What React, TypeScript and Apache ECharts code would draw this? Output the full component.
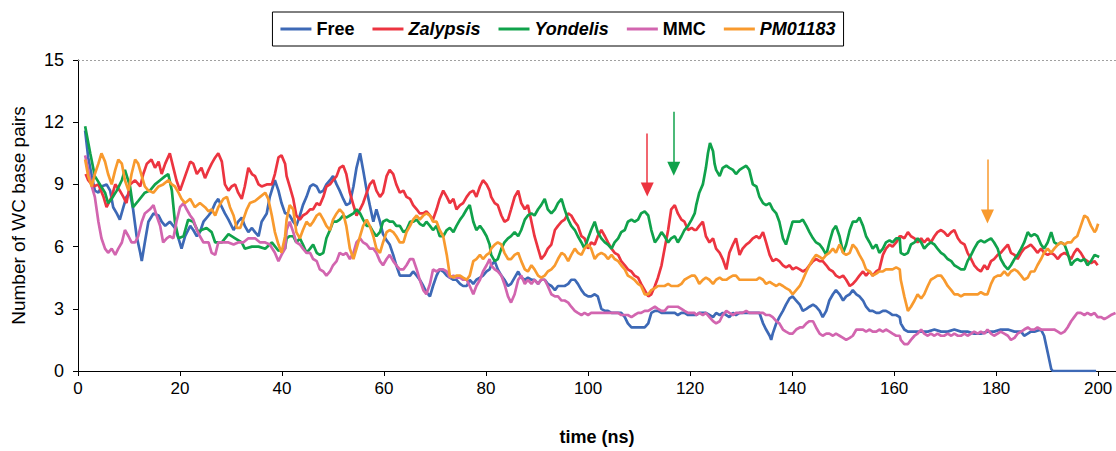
import React, { useEffect, useRef } from "react";
import * as echarts from "echarts";

const seriesNames = ["Free", "Zalypsis", "Yondelis", "MMC", "PM01183"];
const xTicks = [0, 20, 40, 60, 80, 100, 120, 140, 160, 180, 200];
const yTicks = [0, 3, 6, 9, 12, 15];

const free: number[][] = [
  [1.4,11.6],[2.0,10.3],[2.7,9.4],[3.3,8.7],[4.0,8.6],[4.6,8.9],[5.6,9.0],[6.3,8.7],[6.9,7.9],[7.6,7.6],[8.2,7.3],[8.9,7.9],[9.5,8.4],[10.2,8.6],[10.8,7.8],[11.5,6.5],[12.2,5.7],[12.5,5.3],[13.1,6.2],[13.8,7.2],[14.8,7.6],[15.8,7.5],[16.4,7.2],[17.1,7.0],[18.0,7.2],[19.0,6.9],[19.7,6.4],[20.3,5.9],[21.0,6.5],[22.0,7.0],[22.6,6.8],[23.3,6.5],[23.9,6.7],[24.6,7.2],[25.6,7.5],[26.2,7.7],[26.9,8.1],[27.5,8.3],[28.2,7.9],[28.8,7.6],[29.5,7.3],[30.5,6.8],[31.4,7.2],[32.1,7.4],[32.7,7.0],[33.4,6.7],[34.1,6.9],[34.7,6.7],[35.4,6.5],[36.0,7.2],[37.0,7.6],[37.6,8.4],[38.6,9.2],[39.3,8.7],[39.9,8.1],[40.6,7.6],
  [40.9,7.6],[41.5,7.5],[42.2,7.2],[42.8,7.0],[43.5,7.5],[44.1,8.0],[44.8,8.4],[45.5,8.9],[46.1,9.0],[46.8,8.9],[47.4,8.6],[48.1,8.7],[48.7,9.0],[49.4,9.2],[50.0,9.4],[50.7,9.0],[51.3,8.7],[52.0,8.3],[52.6,8.0],[53.3,8.1],[54.0,8.9],[54.6,9.8],[55.3,10.5],[55.9,9.7],[56.6,8.7],[57.2,8.0],[57.9,7.2],[58.5,7.8],[59.2,7.2],[59.8,6.6],[60.5,6.3],[61.1,6.1],[61.8,5.6],[62.4,5.1],[63.1,4.6],[63.8,4.6],[64.4,4.6],[65.1,4.6],[65.7,4.8],[66.4,4.6],[67.0,4.4],[67.7,4.1],[68.3,3.8],[69.0,3.6],[69.6,4.1],[70.3,4.6],[70.9,4.9],[71.6,4.8],[72.3,4.6],[72.9,4.5],[73.6,4.4],[74.2,4.4],[74.9,4.2],[75.5,4.1],[76.2,4.1],[76.8,4.4],[77.5,4.2],[78.1,4.4],[78.8,4.5],[79.4,4.6],[80.1,4.8],[80.7,4.9],
  [81.0,5.1],[81.7,5.3],[82.3,4.9],[83.0,4.6],[83.6,4.4],[84.3,4.1],[84.9,4.2],[85.6,4.5],[86.3,4.8],[86.9,4.5],[87.6,4.4],[88.2,4.5],[88.9,4.4],[89.5,4.4],[90.2,4.2],[90.8,4.4],[91.5,4.4],[92.1,4.2],[92.8,4.1],[93.5,3.9],[94.1,4.1],[94.8,4.1],[95.4,4.1],[96.1,4.2],[96.7,4.4],[97.4,4.4],[98.0,4.2],[98.7,3.9],[99.3,3.7],[100.0,3.6],[100.6,3.6],[101.3,3.7],[101.9,3.6],[102.6,3.0],[103.3,2.9],[103.9,2.9],[104.6,2.8],[105.2,2.8],[105.9,2.8],[106.5,2.8],[107.2,2.6],[107.8,2.3],[108.5,2.1],[109.1,2.1],[109.8,2.1],[110.4,2.1],[111.1,2.1],[111.8,2.3],[112.4,2.8],[113.1,2.9],[113.7,2.9],[114.4,2.8],[115.0,2.8],[115.7,2.8],[116.3,2.8],[117.0,2.8],[117.6,2.7],[118.3,2.8],[118.9,2.8],[119.6,2.7],[120.3,2.7],[120.9,2.7],
  [121.2,2.7],[121.8,2.8],[122.5,2.8],[123.1,2.8],[123.8,2.7],[124.5,2.6],[125.1,2.8],[125.8,2.7],[126.4,2.8],[127.1,2.7],[127.7,2.6],[128.4,2.8],[129.0,2.7],[129.7,2.8],[130.3,2.8],[131.0,2.8],[131.6,2.8],[132.3,2.8],[133.0,2.8],[133.6,2.8],[134.3,2.3],[134.9,2.0],[135.6,1.7],[135.9,1.5],[136.2,1.8],[136.9,2.3],[137.5,2.6],[138.2,2.9],[138.8,3.2],[139.5,3.5],[140.1,3.6],[140.8,3.4],[141.5,3.2],[142.1,2.9],[142.8,3.0],[143.4,3.1],[144.1,3.2],[144.7,3.1],[145.4,2.9],[146.0,2.6],[146.7,2.9],[147.3,3.4],[148.0,3.7],[148.6,3.9],[149.3,3.7],[150.0,3.4],[150.6,3.6],[151.3,3.7],[151.9,3.9],[152.6,3.7],[153.2,3.6],[153.9,3.4],[154.5,3.1],[155.2,2.9],[155.8,2.9],[156.5,2.8],[157.1,2.8],[157.8,2.9],[158.4,2.9],[159.1,2.8],[159.7,2.7],[160.4,2.7],[161.1,2.6],
  [161.3,2.3],[162.0,2.0],[162.7,1.9],[164.0,1.9],[165.3,1.9],[166.6,1.9],[167.9,2.0],[169.2,1.9],[170.5,1.9],[171.8,2.0],[173.1,1.9],[174.4,1.9],[175.7,1.8],[177.0,1.8],[178.3,1.9],[179.6,1.9],[180.9,2.0],[182.3,2.0],[183.6,1.9],[184.9,1.9],[185.5,1.7],[186.2,1.8],[186.8,1.9],[187.5,1.9],[188.8,2.0],[189.4,1.7],[190.1,0.9],[190.8,0.1],[191.1,0],[199.6,0]
];

const zalypsis: number[][] = [
  [1.5,9.5],[2.0,9.2],[3.0,8.9],[4.0,9.0],[5.0,8.4],[5.6,7.9],[6.6,8.4],[7.3,9.0],[8.2,8.7],[8.9,8.4],[9.5,8.1],[10.2,9.0],[11.2,9.2],[12.2,8.9],[12.8,9.5],[13.5,10.0],[14.4,10.2],[15.1,9.8],[15.8,10.1],[16.4,9.5],[17.1,10.0],[18.0,10.5],[18.7,9.8],[19.3,9.2],[20.0,8.7],[21.0,9.4],[22.0,10.1],[22.6,10.0],[23.3,9.5],[24.2,9.8],[24.9,9.3],[25.6,9.7],[26.2,10.0],[26.9,10.3],[27.5,10.5],[28.2,10.1],[28.8,9.0],[29.5,8.7],[30.1,8.9],[30.8,9.0],[31.4,8.6],[32.1,8.3],[32.7,8.9],[33.4,9.8],[34.1,9.5],[34.7,9.4],[35.4,9.0],[36.0,8.9],[37.0,9.0],[38.0,9.0],[38.6,9.5],[39.3,10.3],[39.9,10.4],[40.6,10.0],
  [40.9,9.4],[41.5,8.9],[42.2,8.3],[42.8,7.5],[43.5,7.3],[44.1,7.5],[44.8,7.6],[45.5,7.8],[46.1,7.8],[46.8,8.1],[47.4,8.0],[48.1,8.4],[48.7,8.9],[49.4,9.0],[50.0,9.2],[50.7,9.4],[51.3,9.8],[52.0,9.9],[52.6,9.5],[53.3,8.6],[54.0,8.0],[54.6,7.5],[55.3,7.8],[55.9,8.1],[56.6,8.6],[57.2,9.0],[57.9,9.2],[58.5,8.7],[59.2,8.4],[59.8,8.6],[60.5,9.4],[61.1,9.7],[61.8,9.5],[62.4,9.0],[63.1,8.6],[63.8,8.7],[64.4,8.4],[65.1,8.3],[65.7,8.0],[66.4,7.8],[67.0,7.6],[67.7,7.6],[68.3,7.7],[69.0,7.5],[69.6,7.3],[70.3,7.8],[70.9,8.3],[71.6,8.7],[72.3,8.4],[72.9,8.1],[73.6,8.3],[74.2,7.8],[74.9,8.0],[75.5,8.1],[76.2,8.4],[76.8,8.6],[77.5,8.7],[78.1,8.4],[78.8,8.9],[79.4,9.2],[80.1,9.0],[80.7,8.7],
  [81.0,8.4],[81.7,8.1],[82.3,8.0],[83.0,7.5],[83.6,7.2],[84.3,7.3],[84.9,7.8],[85.6,8.4],[86.3,8.7],[86.9,8.1],[87.6,7.8],[88.2,8.0],[88.9,7.2],[89.5,6.5],[90.2,5.9],[90.8,5.4],[91.5,5.6],[92.1,5.9],[92.8,6.1],[93.5,6.8],[94.1,7.0],[94.8,7.2],[95.4,7.3],[96.1,7.6],[96.7,7.5],[97.4,7.2],[98.0,7.0],[98.7,6.5],[99.3,6.4],[100.0,5.9],[100.6,6.2],[101.3,6.1],[101.9,6.5],[102.6,6.8],[103.3,6.5],[103.9,6.2],[104.6,5.9],[105.2,5.7],[105.9,5.6],[106.5,5.3],[107.2,5.1],[107.8,4.9],[108.5,4.8],[109.1,4.6],[109.8,4.5],[110.4,4.2],[111.1,3.9],[111.8,3.6],[112.4,3.7],[113.1,4.1],[113.7,4.5],[114.4,5.1],[115.0,5.9],[115.7,6.8],[116.3,7.8],[117.0,8.0],[117.6,7.6],[118.3,7.3],[118.9,7.2],[119.6,6.8],[120.3,6.9],[120.9,6.8],
  [121.2,6.8],[121.8,7.0],[122.5,7.2],[123.1,6.5],[123.8,6.2],[124.5,6.4],[125.1,5.9],[125.8,5.7],[126.4,5.4],[127.1,4.9],[127.7,5.7],[128.4,6.1],[129.0,6.4],[129.7,5.6],[130.3,5.9],[131.0,6.1],[131.6,6.2],[132.3,6.4],[133.0,6.5],[133.6,6.4],[134.3,6.7],[134.9,6.2],[135.6,5.6],[136.2,5.3],[136.9,5.4],[137.5,5.3],[138.2,5.1],[138.8,5.0],[139.5,5.1],[140.1,4.9],[140.8,5.0],[141.5,4.9],[142.1,4.8],[142.8,4.9],[143.4,5.1],[144.1,5.3],[144.7,5.4],[145.4,5.3],[146.0,5.3],[146.7,5.1],[147.3,4.9],[148.0,4.8],[148.6,4.6],[149.3,4.5],[150.0,4.6],[150.6,4.4],[151.3,4.1],[151.9,4.2],[152.6,4.4],[153.2,4.6],[153.9,4.8],[154.5,4.6],[155.2,4.8],[155.8,4.6],[156.5,4.8],[157.1,4.9],[157.8,5.6],[158.4,5.9],[159.1,6.1],[159.7,6.0],[160.4,6.2],[161.1,6.5],
  [161.3,6.5],[162.0,6.4],[162.7,6.7],[163.3,6.5],[164.0,6.4],[164.6,6.2],[165.3,6.4],[165.9,6.2],[166.6,6.4],[167.2,6.2],[167.9,6.5],[168.5,6.7],[169.2,6.8],[169.8,6.7],[170.5,6.5],[171.2,6.7],[171.8,6.8],[172.5,6.4],[173.1,6.2],[173.8,6.1],[174.4,5.7],[175.1,5.4],[175.7,5.1],[176.4,4.9],[177.0,4.8],[177.7,5.1],[178.3,4.9],[179.0,5.3],[179.6,5.4],[180.3,5.6],[180.9,5.7],[181.6,5.9],[182.3,6.1],[182.9,5.7],[183.6,5.6],[184.2,5.4],[184.9,5.7],[185.5,5.9],[186.2,6.0],[186.8,6.1],[187.5,5.9],[188.1,5.7],[188.8,5.9],[189.4,5.7],[190.1,5.6],[190.8,5.7],[191.4,5.6],[192.1,5.4],[192.7,5.6],[193.4,5.7],[194.0,5.6],[194.7,5.4],[195.3,5.7],[195.9,5.9],[196.6,5.7],[197.3,5.4],[197.9,5.3],[198.6,5.2],[199.3,5.3],[199.9,5.1]
];

const yondelis: number[][] = [
  [1.4,11.8],[2.4,10.5],[3.3,9.4],[4.3,9.0],[5.3,8.6],[5.9,8.1],[6.6,8.3],[7.6,8.7],[8.6,9.2],[9.2,9.7],[10.2,8.9],[10.8,7.9],[11.8,8.2],[13.1,8.6],[14.1,8.7],[15.1,9.0],[16.1,9.2],[17.1,9.4],[17.7,9.5],[18.4,8.7],[19.0,7.2],[19.7,6.4],[20.7,6.5],[21.6,7.3],[22.6,7.2],[23.6,6.7],[24.2,6.8],[25.2,6.9],[26.2,6.7],[26.9,6.2],[28.2,6.2],[29.5,6.6],[30.8,6.4],[32.1,6.2],[32.7,5.9],[34.1,6.0],[35.4,6.0],[36.7,5.9],[38.0,6.2],[39.3,5.8],[40.6,5.9],
  [40.9,6.4],[41.5,6.5],[42.2,6.5],[42.8,6.2],[43.5,6.4],[44.1,6.1],[44.8,5.7],[45.5,5.9],[46.1,6.1],[46.8,5.7],[47.4,5.6],[48.1,5.7],[48.7,6.4],[49.4,6.8],[50.0,7.2],[50.7,7.2],[51.3,7.3],[52.0,7.5],[52.6,7.4],[53.3,7.5],[54.0,7.6],[54.6,7.8],[55.3,7.6],[55.9,7.3],[56.6,7.0],[57.2,7.0],[57.9,6.7],[58.5,6.5],[59.2,6.7],[59.8,7.2],[60.5,7.3],[61.1,7.2],[61.8,7.2],[62.4,7.0],[63.1,7.0],[63.8,6.7],[64.4,6.8],[65.1,7.2],[65.7,7.2],[66.4,7.3],[67.0,7.1],[67.7,7.0],[68.3,7.2],[69.0,7.0],[69.6,6.8],[70.3,7.0],[70.9,6.5],[71.6,6.5],[72.3,6.8],[72.9,6.9],[73.6,6.7],[74.2,7.0],[74.9,7.3],[75.5,7.5],[76.2,7.8],[76.8,8.0],[77.5,7.2],[78.1,6.8],[78.8,7.0],[79.4,6.8],[80.1,6.5],[80.7,6.1],
  [81.0,5.6],[81.7,5.3],[82.3,5.4],[83.0,5.9],[83.6,6.2],[84.3,6.4],[84.9,6.5],[85.6,6.7],[86.3,6.5],[86.9,6.8],[87.6,7.3],[88.2,7.5],[88.9,7.6],[89.5,7.5],[90.2,7.8],[90.8,8.0],[91.5,8.3],[92.1,7.8],[92.8,7.6],[93.5,7.8],[94.1,8.1],[94.8,8.3],[95.4,7.8],[96.1,7.3],[96.7,7.0],[97.4,6.8],[98.0,6.5],[98.7,6.2],[99.3,5.9],[100.0,6.4],[100.6,6.8],[101.3,7.2],[101.9,6.7],[102.6,6.4],[103.3,6.2],[103.9,6.1],[104.6,5.9],[105.2,6.2],[105.9,6.4],[106.5,6.7],[107.2,6.8],[107.8,7.2],[108.5,7.3],[109.1,7.2],[109.8,7.3],[110.4,7.6],[111.1,7.7],[111.8,7.5],[112.4,6.8],[113.1,6.2],[113.7,6.4],[114.4,6.7],[115.0,6.5],[115.7,6.2],[116.3,6.4],[117.0,6.5],[117.6,6.2],[118.3,6.5],[118.9,6.8],[119.6,7.0],[120.3,7.3],[120.9,7.6],
  [121.2,8.0],[121.8,8.6],[122.5,9.0],[123.1,9.8],[123.5,10.5],[123.9,11.0],[124.5,10.6],[124.8,10.0],[125.1,9.7],[125.8,9.4],[126.4,9.8],[127.1,9.9],[127.7,9.8],[128.4,9.7],[129.0,9.5],[129.7,9.7],[130.3,9.8],[131.0,9.9],[131.6,9.7],[132.3,9.0],[133.0,8.9],[133.6,8.4],[134.3,8.1],[134.9,8.0],[135.6,8.1],[136.2,7.8],[136.9,7.6],[137.5,7.2],[138.2,6.4],[138.8,6.1],[139.5,6.7],[140.1,7.2],[140.8,7.2],[141.5,7.2],[142.1,7.3],[142.8,7.0],[143.4,6.7],[144.1,6.4],[144.7,6.2],[145.4,6.1],[146.0,5.9],[146.7,5.6],[147.3,6.2],[148.0,6.8],[148.6,7.0],[149.3,6.5],[150.0,5.7],[150.6,6.1],[151.3,6.8],[151.9,7.2],[152.6,7.2],[153.2,7.4],[153.9,7.0],[154.5,6.5],[155.2,6.2],[155.8,5.9],[156.5,6.1],[157.1,5.7],[157.8,5.9],[158.4,6.2],[159.1,6.3],[159.7,6.2],[160.4,6.4],[161.1,6.4],
  [161.3,5.7],[162.0,5.6],[162.7,5.7],[163.3,6.1],[164.0,6.2],[164.6,6.4],[165.3,6.2],[165.9,5.9],[166.6,6.1],[167.2,6.2],[167.9,6.1],[168.5,5.9],[169.2,5.7],[169.8,5.6],[170.5,5.4],[171.2,5.3],[171.8,5.1],[172.5,5.0],[173.1,4.9],[173.8,4.9],[174.4,5.3],[175.1,5.6],[175.7,5.9],[176.4,6.2],[177.0,6.3],[177.7,6.2],[178.3,6.3],[179.0,6.4],[179.6,6.2],[180.3,5.9],[180.9,5.4],[181.6,5.1],[182.3,4.9],[182.9,5.1],[183.6,5.4],[184.2,5.6],[184.9,5.9],[185.5,6.2],[186.2,6.7],[186.8,6.5],[187.5,6.6],[188.1,6.5],[188.8,6.1],[189.4,5.9],[190.1,6.2],[190.8,6.7],[191.4,6.2],[192.1,6.1],[192.7,6.2],[193.4,6.1],[194.0,5.7],[194.7,5.1],[195.3,5.3],[195.9,5.4],[196.6,5.3],[197.3,5.4],[197.9,5.1],[198.6,5.3],[199.3,5.6],[200.2,5.5]
];

const mmc: number[][] = [
  [1.4,10.4],[2.0,9.7],[2.7,8.9],[3.3,8.4],[4.0,7.2],[4.6,6.4],[5.3,5.9],[5.9,5.7],[6.6,5.9],[7.3,5.6],[7.9,5.9],[8.6,6.2],[9.2,6.8],[9.9,6.5],[10.5,6.2],[11.2,6.2],[11.8,6.5],[12.5,7.2],[13.1,7.6],[14.1,7.8],[14.8,8.0],[15.4,7.5],[16.1,7.0],[16.7,6.2],[17.4,6.4],[18.0,6.5],[18.7,6.4],[19.3,7.2],[20.0,7.9],[20.7,8.1],[21.3,7.8],[22.0,7.5],[22.6,7.3],[23.3,6.8],[23.9,6.5],[24.6,6.2],[25.6,6.2],[26.2,5.7],[26.9,5.6],[27.5,6.2],[28.5,6.2],[29.5,6.2],[30.5,6.1],[31.4,6.2],[32.4,6.2],[33.4,6.4],[34.7,6.4],[35.7,6.2],[36.7,6.2],[37.6,6.1],[38.6,5.7],[39.3,5.3],[39.9,5.6],[40.6,5.9],
  [40.9,6.8],[41.5,7.2],[42.2,6.7],[42.8,6.2],[43.5,6.1],[44.1,5.9],[44.8,5.7],[45.5,5.7],[46.1,5.4],[46.8,5.3],[47.4,4.9],[48.1,4.8],[48.7,4.6],[49.4,4.8],[50.0,5.1],[50.7,5.3],[51.3,5.7],[52.0,5.6],[52.6,5.7],[53.3,5.4],[54.0,5.7],[54.6,6.2],[55.3,6.4],[55.9,6.2],[56.6,6.1],[57.2,5.9],[57.9,5.9],[58.5,5.7],[59.2,5.3],[59.8,5.1],[60.5,5.4],[61.1,5.6],[61.8,5.3],[62.4,5.1],[63.1,4.9],[63.8,4.9],[64.4,5.1],[65.1,5.4],[65.7,5.4],[66.4,4.9],[67.0,4.4],[67.7,3.9],[68.3,3.7],[69.0,4.2],[69.6,4.9],[70.3,4.8],[70.9,4.9],[71.6,4.9],[72.3,4.8],[72.9,4.5],[73.6,4.6],[74.2,4.5],[74.9,4.5],[75.5,4.4],[76.2,4.4],[76.8,4.1],[77.5,3.7],[78.1,4.1],[78.8,4.4],[79.4,4.8],[80.1,5.1],[80.7,5.4],
  [81.0,5.1],[81.7,4.9],[82.3,4.8],[83.0,4.6],[83.6,4.2],[84.3,3.6],[84.9,3.3],[85.6,3.7],[86.3,4.4],[86.9,4.6],[87.6,4.2],[88.2,4.4],[88.9,4.2],[89.5,4.4],[90.2,4.2],[90.8,4.4],[91.5,4.4],[92.1,4.1],[92.8,3.7],[93.5,3.6],[94.1,3.6],[94.8,3.4],[95.4,3.4],[96.1,3.3],[96.7,3.1],[97.4,2.9],[98.0,2.8],[98.7,2.7],[99.3,2.8],[100.0,2.7],[100.6,2.8],[101.3,2.8],[101.9,2.8],[102.6,2.8],[103.3,2.8],[103.9,2.8],[104.6,2.8],[105.2,2.8],[105.9,2.8],[106.5,2.7],[107.2,2.7],[107.8,2.7],[108.5,2.6],[109.1,2.7],[109.8,2.8],[110.4,2.8],[111.1,2.9],[111.8,2.9],[112.4,3.0],[113.1,3.1],[113.7,3.0],[114.4,2.9],[115.0,2.9],[115.7,3.1],[116.3,3.1],[117.0,3.1],[117.6,3.1],[118.3,3.0],[118.9,2.9],[119.6,2.8],[120.3,2.8],[120.9,2.8],
  [121.2,2.7],[121.8,2.8],[122.5,2.7],[123.1,2.8],[123.8,2.6],[124.5,2.4],[125.1,2.3],[125.8,2.4],[126.4,2.7],[127.1,2.9],[127.7,2.8],[128.4,2.7],[129.0,2.8],[129.7,2.8],[130.3,2.8],[131.0,2.9],[131.6,2.8],[132.3,2.8],[133.0,2.8],[133.6,2.8],[134.3,2.8],[134.9,2.7],[135.6,2.7],[136.2,2.6],[136.9,2.4],[137.5,2.3],[138.2,2.0],[138.8,1.9],[139.5,1.8],[140.1,1.8],[140.8,2.0],[141.5,2.1],[142.1,2.1],[142.8,2.3],[143.4,2.4],[144.1,2.4],[144.7,2.1],[145.4,1.8],[146.0,1.7],[146.7,1.8],[147.3,1.8],[148.0,1.7],[148.6,1.8],[149.3,1.7],[150.0,1.6],[150.6,1.5],[151.3,1.6],[151.9,1.7],[152.6,2.0],[153.2,2.0],[153.9,2.0],[154.5,1.9],[155.2,2.0],[155.8,1.9],[156.5,1.9],[157.1,2.0],[157.8,1.9],[158.4,2.0],[159.1,1.9],[159.7,1.8],[160.4,1.7],[161.1,1.7],
  [161.3,1.5],[162.0,1.3],[162.7,1.3],[163.3,1.5],[164.0,1.7],[164.6,1.8],[165.3,2.0],[165.9,1.8],[166.6,1.7],[167.2,1.8],[167.9,1.7],[168.5,1.8],[169.2,1.7],[169.8,1.7],[170.5,1.8],[171.2,1.7],[171.8,1.8],[172.5,1.7],[173.1,1.7],[173.8,1.8],[174.4,1.7],[175.1,1.8],[175.7,1.9],[176.4,1.8],[177.0,1.9],[177.7,1.8],[178.3,2.0],[179.0,1.8],[179.6,1.7],[180.3,1.8],[180.9,1.9],[181.6,1.8],[182.3,1.7],[182.9,1.5],[183.6,1.6],[184.2,1.8],[184.9,1.9],[185.5,2.0],[186.2,2.1],[186.8,2.0],[187.5,2.0],[188.1,2.1],[188.8,2.0],[189.4,2.0],[190.1,2.0],[190.8,2.0],[191.4,2.0],[192.1,1.9],[192.7,1.8],[193.4,1.9],[194.0,2.1],[194.7,2.4],[195.3,2.6],[195.9,2.8],[196.6,2.8],[197.3,2.7],[197.9,2.8],[198.6,2.7],[199.3,2.8],[199.9,2.6],[200.6,2.6],[201.2,2.5],[201.9,2.6],[202.5,2.7],[203.4,2.8]
];

const pm01183: number[][] = [
  [1.4,10.2],[2.0,9.4],[2.7,8.9],[3.3,9.5],[4.0,10.0],[4.6,10.5],[5.3,10.1],[5.9,9.5],[6.6,9.0],[7.3,9.7],[7.9,10.2],[8.6,10.0],[9.2,9.2],[9.9,8.7],[10.5,9.5],[11.2,10.2],[11.8,10.0],[12.5,9.4],[13.1,8.9],[13.8,8.7],[14.8,8.6],[15.8,8.9],[16.7,9.0],[17.7,9.2],[18.4,9.0],[19.0,8.9],[19.7,8.6],[20.3,8.3],[21.0,8.1],[22.0,8.3],[22.9,7.9],[23.9,8.1],[24.9,7.9],[25.6,7.7],[26.2,7.8],[26.9,7.5],[27.5,7.9],[28.5,8.3],[29.2,8.4],[29.8,7.9],[30.5,7.5],[31.1,6.9],[31.8,6.9],[32.4,7.3],[33.1,7.8],[33.7,8.1],[34.7,8.2],[35.7,8.4],[36.7,8.6],[37.3,8.3],[38.0,7.5],[38.6,6.7],[39.3,6.1],[39.9,5.7],[40.6,6.5],
  [40.9,7.3],[41.5,8.0],[42.2,7.8],[42.8,6.7],[43.5,6.4],[44.1,6.8],[44.8,7.2],[45.5,7.0],[46.1,7.2],[46.8,7.5],[47.4,7.6],[48.1,7.3],[48.7,7.0],[49.4,6.8],[50.0,7.3],[50.7,7.6],[51.3,7.8],[52.0,7.6],[52.6,7.0],[53.3,5.9],[54.0,5.4],[54.6,5.9],[55.3,6.5],[55.9,7.0],[56.6,7.3],[57.2,7.0],[57.9,6.5],[58.5,5.9],[59.2,5.7],[59.8,6.2],[60.5,6.7],[61.1,6.8],[61.8,6.7],[62.4,6.5],[63.1,6.2],[63.8,6.2],[64.4,6.7],[65.1,7.0],[65.7,7.3],[66.4,7.5],[67.0,7.3],[67.7,7.5],[68.3,7.6],[69.0,7.5],[69.6,7.2],[70.3,7.2],[70.9,6.8],[71.6,6.5],[72.3,5.6],[72.9,4.6],[73.6,4.5],[74.2,4.6],[74.9,4.6],[75.5,4.5],[76.2,4.4],[76.8,4.6],[77.5,5.3],[78.1,5.4],[78.8,5.6],[79.4,5.4],[80.1,5.6],[80.7,5.7],
  [81.0,5.9],[81.7,6.1],[82.3,6.2],[83.0,6.1],[83.6,5.7],[84.3,5.4],[84.9,5.4],[85.6,5.6],[86.3,5.7],[86.9,5.3],[87.6,4.9],[88.2,4.8],[88.9,5.1],[89.5,4.9],[90.2,4.6],[90.8,4.5],[91.5,4.6],[92.1,4.8],[92.8,4.9],[93.5,5.1],[94.1,5.4],[94.8,5.7],[95.4,5.6],[96.1,5.3],[96.7,5.6],[97.4,5.9],[98.0,5.7],[98.7,5.6],[99.3,5.9],[100.0,6.1],[100.6,5.9],[101.3,5.4],[101.9,5.6],[102.6,5.7],[103.3,5.6],[103.9,5.4],[104.6,5.6],[105.2,5.4],[105.9,5.3],[106.5,5.1],[107.2,4.9],[107.8,4.6],[108.5,4.5],[109.1,4.4],[109.8,4.2],[110.4,4.1],[111.1,3.7],[111.8,3.7],[112.4,3.9],[113.1,4.0],[113.7,4.1],[114.4,4.1],[115.0,4.1],[115.7,4.2],[116.3,4.1],[117.0,4.1],[117.6,4.1],[118.3,4.2],[118.9,4.4],[119.6,4.5],[120.3,4.6],[120.9,4.6],
  [121.2,4.5],[121.8,4.2],[122.5,4.4],[123.1,4.5],[123.8,4.4],[124.5,4.2],[125.1,4.4],[125.8,4.5],[126.4,4.4],[127.1,4.4],[127.7,4.5],[128.4,4.6],[129.0,4.6],[129.7,4.4],[130.3,4.4],[131.0,4.4],[131.6,4.4],[132.3,4.4],[133.0,4.4],[133.6,4.5],[134.3,4.4],[134.9,4.2],[135.6,4.3],[136.2,4.2],[136.9,4.1],[137.5,4.2],[138.2,4.1],[138.8,4.0],[139.5,3.9],[140.1,3.7],[140.8,3.9],[141.5,4.1],[142.1,4.4],[142.8,4.8],[143.4,5.1],[144.1,5.4],[144.7,5.6],[145.4,5.5],[146.0,5.4],[146.7,5.6],[147.3,5.7],[148.0,5.9],[148.6,5.7],[149.3,6.1],[150.0,5.7],[150.6,5.6],[151.3,5.7],[151.9,6.1],[152.6,5.9],[153.2,5.6],[153.9,5.3],[154.5,4.9],[155.2,4.8],[155.8,4.6],[156.5,4.7],[157.1,4.8],[157.8,4.8],[158.4,4.9],[159.1,4.9],[159.7,4.9],[160.4,5.0],[161.1,4.9],
  [161.3,4.4],[162.0,3.6],[162.7,2.9],[163.3,3.1],[164.0,3.4],[164.6,3.7],[165.3,3.5],[165.9,3.7],[166.6,4.1],[167.2,4.4],[167.9,4.5],[168.5,4.6],[169.2,4.6],[169.8,4.4],[170.5,4.1],[171.2,3.9],[171.8,3.7],[172.5,3.7],[173.1,3.6],[173.8,3.7],[174.4,3.7],[175.1,3.7],[175.7,3.7],[176.4,3.7],[177.0,3.8],[177.7,3.7],[178.3,3.7],[179.0,4.2],[179.6,4.5],[180.3,4.6],[180.9,4.6],[181.6,4.8],[182.3,4.6],[182.9,4.8],[183.6,4.9],[184.2,4.8],[184.9,4.6],[185.5,4.4],[186.2,4.5],[186.8,4.8],[187.5,4.8],[188.1,5.1],[188.8,5.4],[189.4,5.7],[190.1,5.9],[190.8,5.7],[191.4,5.9],[192.1,6.1],[192.7,6.2],[193.4,6.1],[194.0,6.2],[194.7,6.2],[195.3,6.4],[195.9,6.5],[196.6,7.0],[197.3,7.5],[197.9,7.4],[198.6,7.0],[199.3,6.7],[199.6,6.8],[200.0,7.1]
];

// arrows: [time, startValue, endValue]
const arrowZalypsis = [111.6, 11.45, 8.75];
const arrowYondelis = [116.8, 12.5, 9.75];
const arrowPM01183 = [178.3, 10.2, 7.45];

const colors = ["#3d69b6", "#ec3440", "#10a24b", "#d265af", "#f89a2e"];
const datasets = [free, zalypsis, yondelis, mmc, pm01183];
const arrows: (number[] | null)[] = [null, arrowZalypsis, arrowYondelis, null, arrowPM01183];
const italic = [false, true, true, false, true];

export default function App() {
  const ref = useRef<HTMLDivElement>(null);
  useEffect(() => {
    if (!ref.current) return;
    const chart = echarts.init(ref.current, undefined, { renderer: "svg" });
    const font = "'Liberation Sans', Arial, sans-serif";
    const series: any[] = datasets.map((d, i) => {
      const s: any = {
        name: seriesNames[i],
        type: "line",
        data: d,
        showSymbol: false,
        symbol: "none",
        lineStyle: { width: 2.7, color: colors[i] },
        itemStyle: { color: colors[i] },
        z: 2 + i,
      };
      const a = arrows[i];
      const ml: any[] = [];
      if (a) {
        ml.push([
          { coord: [a[0], a[1]], symbol: "none" },
          { coord: [a[0], a[2]], symbol: "triangle", symbolSize: [13, 14] },
        ]);
      }
      if (i === 0) {
        ml.push([
          { coord: [0, 15], symbol: "none", lineStyle: { color: "#a0a0a0", type: [2, 2], width: 1 } },
          { coord: [203.5, 15], symbol: "none" },
        ]);
      }
      if (ml.length) {
        s.markLine = {
          silent: true,
          animation: false,
          label: { show: false },
          lineStyle: { color: colors[i], width: 1.5, type: "solid" },
          emphasis: { disabled: true },
          data: ml,
        };
      }
      return s;
    });
    chart.setOption({
      animation: false,
      textStyle: { fontFamily: font },
      legend: {
        top: 12,
        left: "center",
        icon: "rect",
        data: seriesNames.map((n, i) => ({
          name: n,
          textStyle: { fontStyle: italic[i] ? "italic" : "normal" },
        })),
        itemWidth: 31,
        itemHeight: 3,
        itemGap: 18,
        padding: [8, 8, 8, 8],
        borderColor: "#000",
        borderWidth: 1,
        borderRadius: 0,
        textStyle: { fontSize: 18, fontWeight: "bold", color: "#000", fontFamily: font },
      },
      grid: { left: 78, right: 0, top: 60, bottom: 73, containLabel: false },
      xAxis: {
        type: "value",
        min: 0,
        max: 203.5,
        interval: 20,
        name: "time (ns)",
        nameLocation: "middle",
        nameGap: 57,
        nameTextStyle: { fontSize: 18, fontWeight: "bold", color: "#000", fontFamily: font },
        axisLine: { show: true, lineStyle: { color: "#000", width: 1 } },
        axisTick: { show: true, length: 5, customValues: xTicks, lineStyle: { color: "#000" } },
        axisLabel: { fontSize: 17, color: "#000", margin: 9, customValues: xTicks, fontFamily: font },
        splitLine: { show: false },
      },
      yAxis: {
        type: "value",
        min: 0,
        max: 15,
        interval: 3,
        name: "Number of WC base pairs",
        nameLocation: "middle",
        nameGap: 50,
        nameTextStyle: { fontSize: 19, color: "#000", fontFamily: font },
        axisLine: { show: true, lineStyle: { color: "#000", width: 1 } },
        axisTick: { show: true, length: 5, lineStyle: { color: "#000" } },
        axisLabel: { fontSize: 18, color: "#000", margin: 14, fontFamily: font },
        splitLine: { show: false },
      },
      series,
    });
    return () => chart.dispose();
  }, []);
  return (
    <div
      ref={ref}
      style={{ position: "fixed", left: 0, top: 0, width: 1116, height: 451, background: "#fff" }}
    />
  );
}
